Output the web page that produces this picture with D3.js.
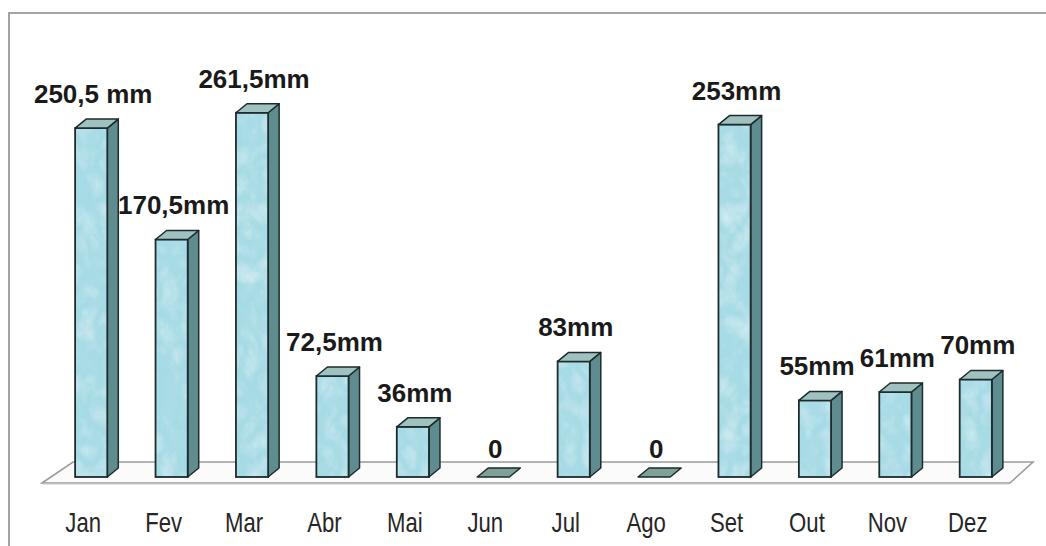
<!DOCTYPE html>
<html>
<head>
<meta charset="utf-8">
<script src="https://cdn.jsdelivr.net/npm/d3@7"></script>
<style>
  html, body { margin: 0; padding: 0; background: #ffffff; }
  svg { display: block; }
</style>
</head>
<body>
<svg id="chart" width="1046" height="546"></svg>
<script>
// Monthly rainfall (mm)
const months = ["Jan", "Fev", "Mar", "Abr", "Mai", "Jun", "Jul", "Ago", "Set", "Out", "Nov", "Dez"];
const rainfall = [250.5, 170.5, 261.5, 72.5, 36, 0, 83, 0, 253, 55, 61, 70];
const valueLabels = ["250,5 mm", "170,5mm", "261,5mm", "72,5mm", "36mm", "0", "83mm", "0", "253mm", "55mm", "61mm", "70mm"];

const svg = d3.select("#chart");
const W = 1046, H = 546;

// 3D projection offsets for bar depth
const dx = 11, dy = 9;

const x = d3.scaleBand()
  .domain(months)
  .range([51, 1016])
  .paddingInner(0.6)
  .paddingOuter(0.3);

const y = d3.scaleLinear()
  .domain([0, 300])
  .range([477, 477 - 1.393 * 300]);

const defs = svg.append("defs");

// watery texture for the bar faces
const f = defs.append("filter").attr("id", "water")
  .attr("x", 0).attr("y", 0).attr("width", 1).attr("height", 1);
f.append("feTurbulence")
  .attr("type", "turbulence")
  .attr("baseFrequency", "0.05 0.035")
  .attr("numOctaves", 3)
  .attr("seed", 7)
  .attr("result", "noise");
f.append("feColorMatrix")
  .attr("in", "noise")
  .attr("type", "matrix")
  .attr("values", "0 0 0 0 0.85  0 0 0 0 0.95  0 0 0 0 0.97  0.7 0 0 0 -0.12")
  .attr("result", "light");
f.append("feColorMatrix")
  .attr("in", "noise")
  .attr("type", "matrix")
  .attr("values", "0 0 0 0 0.45  0 0 0 0 0.72  0 0 0 0 0.80  0 1.0 0 0 -0.2")
  .attr("result", "dark");
f.append("feComposite").attr("in", "light").attr("in2", "SourceGraphic").attr("operator", "in").attr("result", "lightC");
f.append("feComposite").attr("in", "dark").attr("in2", "SourceGraphic").attr("operator", "in").attr("result", "darkC");
const m = f.append("feMerge");
m.append("feMergeNode").attr("in", "SourceGraphic");
m.append("feMergeNode").attr("in", "darkC");
m.append("feMergeNode").attr("in", "lightC");

// outer frame
svg.append("rect")
  .attr("x", 9).attr("y", 13)
  .attr("width", W + 20).attr("height", H + 20)
  .attr("fill", "#ffffff")
  .attr("stroke", "#a3a3a3")
  .attr("stroke-width", 2);

// floor plate
const floorFront = 483, floorBack = 462;
const floorPts = [[42, floorFront], [1010, floorFront], [1033, floorBack], [73, floorBack]];
svg.append("polygon")
  .attr("points", floorPts.map(p => p.join(",")).join(" "))
  .attr("fill", "#fbfbfb")
  .attr("stroke", "#9c9c9c")
  .attr("stroke-width", 1.6);
svg.append("line")
  .attr("x1", 42).attr("x2", 1010)
  .attr("y1", floorFront + 1).attr("y2", floorFront + 1)
  .attr("stroke", "#c8c8c8").attr("stroke-width", 1.2);

const bars = svg.append("g").selectAll("g")
  .data(months.map((mo, i) => ({ mo, v: rainfall[i], label: valueLabels[i] })))
  .join("g");

const stroke = "#1d2b2c";

bars.each(function (d) {
  const g = d3.select(this);
  const x0 = x(d.mo), x1 = x0 + x.bandwidth();
  const yb = y(0), yt = y(d.v);
  if (d.v > 0) {
    // side face
    g.append("polygon")
      .attr("points", [[x1, yb], [x1 + dx, yb - dy], [x1 + dx, yt - dy], [x1, yt]].map(p => p.join(",")).join(" "))
      .attr("fill", "#5f8d8f")
      .attr("stroke", stroke).attr("stroke-width", 1.5).attr("stroke-linejoin", "round");
    // front face
    g.append("rect")
      .attr("x", x0).attr("y", yt)
      .attr("width", x1 - x0).attr("height", yb - yt)
      .attr("fill", "#a6dbe5")
      .attr("filter", "url(#water)");
    g.append("rect")
      .attr("x", x0).attr("y", yt)
      .attr("width", x1 - x0).attr("height", yb - yt)
      .attr("fill", "none")
      .attr("stroke", stroke).attr("stroke-width", 1.8);
    // top face
    g.append("polygon")
      .attr("points", [[x0, yt], [x0 + dx, yt - dy], [x1 + dx, yt - dy], [x1, yt]].map(p => p.join(",")).join(" "))
      .attr("fill", "#9fc2c0")
      .attr("stroke", stroke).attr("stroke-width", 1.5).attr("stroke-linejoin", "round");
  } else {
    // zero value: a flat slab on the floor
    g.append("polygon")
      .attr("points", [[x0, yb], [x0 + dx, yb - dy], [x1 + dx, yb - dy], [x1, yb]].map(p => p.join(",")).join(" "))
      .attr("fill", "#7f9f99")
      .attr("stroke", stroke).attr("stroke-width", 1.5).attr("stroke-linejoin", "round");
  }
  // value label
  g.append("text")
    .attr("x", (x0 + x1) / 2 + 2)
    .attr("y", yt - dy - (d.v > 0 ? 16 : 10))
    .attr("text-anchor", "middle")
    .attr("font-family", "'Liberation Sans', Arial, sans-serif")
    .attr("font-weight", "bold")
    .attr("font-size", 26)
    .attr("fill", "#1a1a1a")
    .text(d.label);
});

// category labels along the front of the floor
svg.append("g").selectAll("text")
  .data(months)
  .join("text")
  .attr("transform", d => `translate(${x(d) + x.bandwidth() / 2 - 8},532) scale(0.82,1)`)
  .attr("text-anchor", "middle")
  .attr("font-family", "'Liberation Sans', Arial, sans-serif")
  .attr("font-size", 27)
  .attr("fill", "#262626")
  .text(d => d);
</script>
</body>
</html>
